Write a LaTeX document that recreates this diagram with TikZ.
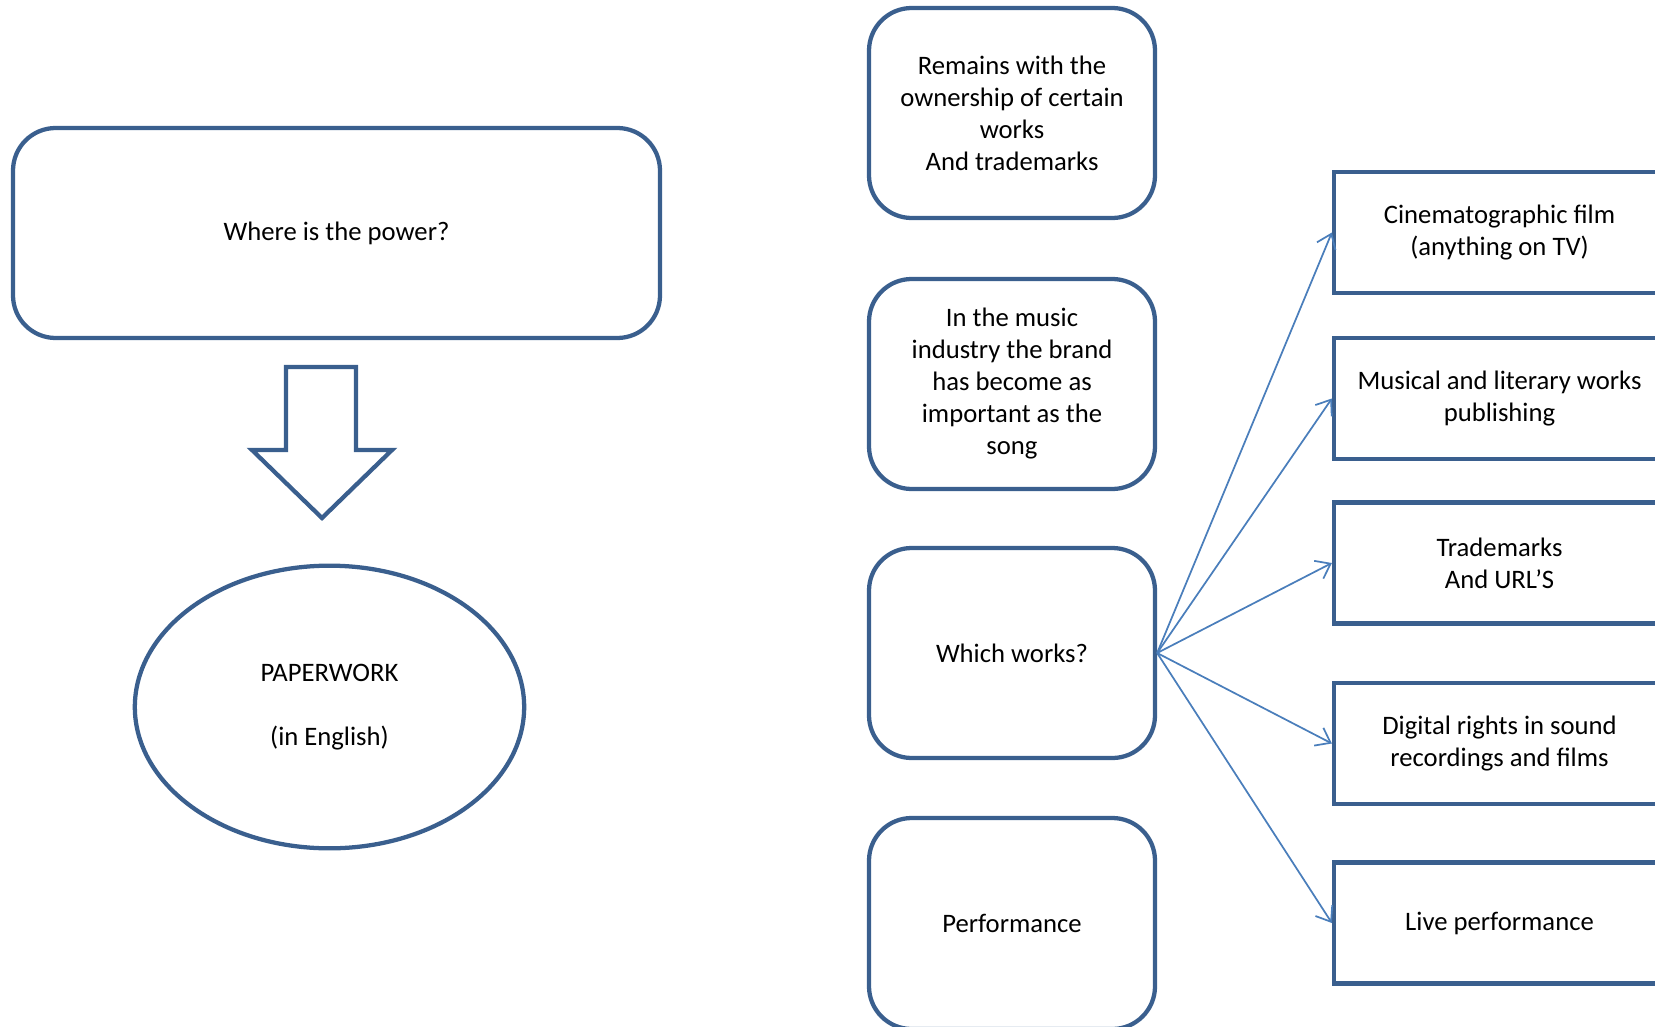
\documentclass[tikz,border=0pt]{standalone}
\usepackage{fontspec}
\setmainfont{Carlito}
\usetikzlibrary{arrows.meta,shapes.geometric}
\definecolor{boxblue}{HTML}{3A5F8E}
\definecolor{linkblue}{HTML}{4A7EBB}
\begin{document}
\begin{tikzpicture}[x=0.75pt,y=-0.75pt,
  every node/.style={font=\fontsize{20}{24}\selectfont, align=center, text=black},
  rbox/.style={draw=boxblue, line width=3.2pt, rounded corners=32pt, inner sep=0pt,
               minimum width=286*0.75pt, minimum height=210*0.75pt},
  sbox/.style={draw=boxblue, line width=3.2pt, inner sep=0pt,
               minimum width=331*0.75pt, minimum height=121*0.75pt},
  conn/.style={draw=linkblue, line width=1.3pt, -{Straight Barb[length=10pt,width=15pt]}}]
\useasboundingbox (0,0) rectangle (1655,1027);

% left column
\node[rbox, minimum width=647*0.75pt] (power) at (336.5,233) {Where is the power?};
\draw[boxblue, line width=3.2pt, line join=miter]
  (286,367) -- (356,367) -- (356,450) -- (392,450) -- (322,518) -- (252,450) -- (286,450) -- cycle;
\node[ellipse, draw=boxblue, line width=3.2pt, inner sep=0pt,
      minimum width=292pt, minimum height=212pt] (paper) at (329.5,707)
      {PAPERWORK\\[24pt](in English)};

% middle column
\node[rbox] (remains) at (1012,113) {Remains with the\\ownership of certain\\works\\And trademarks};
\node[rbox] (brand) at (1012,384) {In the music\\industry the brand\\has become as\\important as the\\song};
\node[rbox] (which) at (1012,653) {Which works?};
\node[rbox, minimum height=211*0.75pt] (perf) at (1012,923.5) {Performance};

% right column
\node[sbox] (cine) at (1499.5,232.5) {Cinematographic film\\(anything on TV)};
\node[sbox] (music) at (1499.5,398.5) {Musical and literary works\\publishing};
\node[sbox] (trade) at (1499.5,563) {Trademarks\\And URL’S};
\node[sbox] (digital) at (1499.5,743.5) {Digital rights in sound\\recordings and films};
\node[sbox] (live) at (1499.5,923) {Live performance};

% connectors
\foreach \t in {cine,music,trade,digital,live}
  \draw[conn] (which.east) -- (\t.west);
\end{tikzpicture}
\end{document}
